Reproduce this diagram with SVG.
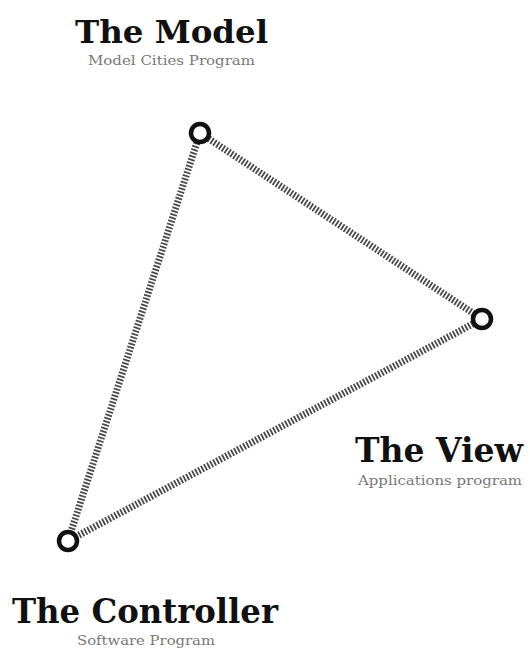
<svg xmlns="http://www.w3.org/2000/svg" width="530" height="648" viewBox="0 0 530 648">
<style>
.title{font-family:"DejaVu Serif","Liberation Serif",serif;font-weight:bold;fill:#111;}
.sub{font-family:"DejaVu Serif","Liberation Serif",serif;fill:#777;font-size:12px;}
.edge{stroke:#4a4a4a;stroke-width:7;stroke-dasharray:1.8 1.6;fill:none;}
.node{fill:#fff;stroke:#111;stroke-width:4.5;}
</style>
<rect width="530" height="648" fill="#fff"/>
<g id="connectors">
<line class="edge" x1="200" y1="133" x2="482" y2="319"/>
<line class="edge" x1="200" y1="133" x2="68" y2="541"/>
<line class="edge" x1="482" y1="319" x2="68" y2="541"/>
</g>
<g id="model">
<circle class="node" cx="200" cy="133" r="9"/>
<text class="title" x="75" y="43" font-size="32" textLength="193" lengthAdjust="spacingAndGlyphs">The Model</text>
<text class="sub" x="88" y="65" textLength="167" lengthAdjust="spacingAndGlyphs">Model Cities Program</text>
</g>
<g id="view">
<circle class="node" cx="482" cy="319" r="9"/>
<text class="title" x="355" y="462" font-size="33" textLength="168" lengthAdjust="spacingAndGlyphs">The View</text>
<text class="sub" x="358" y="485" textLength="164" lengthAdjust="spacingAndGlyphs">Applications program</text>
</g>
<g id="controller">
<circle class="node" cx="68" cy="541" r="9"/>
<text class="title" x="12" y="623" font-size="33" textLength="266" lengthAdjust="spacingAndGlyphs">The Controller</text>
<text class="sub" x="77" y="645" textLength="138" lengthAdjust="spacingAndGlyphs">Software Program</text>
</g>
</svg>
